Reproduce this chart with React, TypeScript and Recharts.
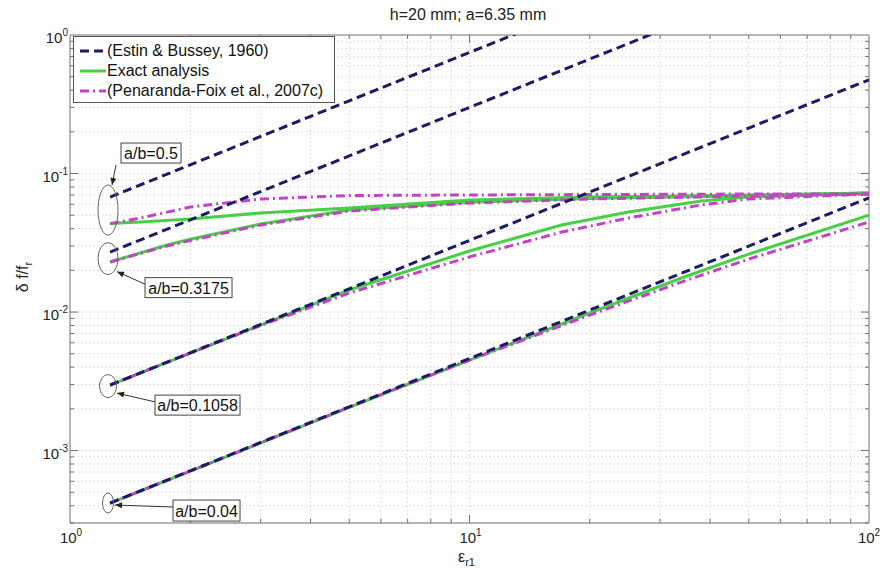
import React from 'react';
import { LineChart, Line, XAxis, YAxis, ReferenceLine, ReferenceDot } from 'recharts';

const FONT = '"Liberation Sans", Arial, Helvetica, sans-serif';

// Estin & Bussey (straight lines on log-log)
const estinX05 = [1.26, 2, 5, 10, 20];
const estinY05 = [0.0676, 0.1156, 0.335, 0.748, 1.67];
const estinX03 = [1.26, 2, 5, 10, 20, 50];
const estinY03 = [0.0271, 0.0463, 0.134, 0.3, 0.67, 1.94];
const estinX = [1.26, 2, 5, 10, 20, 50, 100];
const estinY01 = [0.00297, 0.00508, 0.01472, 0.0329, 0.0735, 0.213, 0.475];
const estinY004 = [0.000418, 0.000714, 0.00207, 0.00462, 0.01033, 0.0299, 0.0668];

// exact analysis / Penaranda-Foix
const x05 = [1.26, 1.5, 2, 3, 5, 10, 20, 50, 100];
const exactY05 = [0.0435, 0.0447, 0.0469, 0.0519, 0.0564, 0.0644, 0.0676, 0.07, 0.0723];
const penY05 = [0.0435, 0.0477, 0.0573, 0.0655, 0.0694, 0.07, 0.0705, 0.0711, 0.0711];

const x03 = [1.26, 1.75, 2, 3, 5, 10, 20, 50, 100];
const exactY03 = [0.023, 0.0305, 0.0335, 0.0432, 0.0545, 0.062, 0.066, 0.069, 0.0723];
const penY03 = [0.023, 0.03, 0.0328, 0.0425, 0.0536, 0.0612, 0.0655, 0.0688, 0.0711];

const x01 = [1.26, 2, 3, 5, 10, 17, 25, 38, 50, 100];
const exactY01 = [0.00297, 0.00506, 0.00806, 0.01442, 0.0276, 0.0425, 0.0527, 0.0633, 0.0676, 0.0723];
const penY01 = [0.00297, 0.00506, 0.008, 0.01371, 0.025, 0.0378, 0.0477, 0.0593, 0.0655, 0.0711];

const x004 = [1.26, 2, 5, 10, 20, 35, 50, 100];
const exactY004 = [0.000418, 0.00071, 0.00205, 0.0045, 0.00984, 0.0182, 0.0262, 0.0501];
const penY004 = [0.000418, 0.00071, 0.00206, 0.0045, 0.00951, 0.017, 0.0241, 0.0447];

// axes
const xMajor = [1, 10, 100];
const yMajor = [1e-3, 1e-2, 1e-1, 1];
const xMinor = [2, 3, 4, 5, 6, 7, 8, 9, 20, 30, 40, 50, 60, 70, 80, 90];
const yMinor = [
  3e-4, 4e-4, 5e-4, 6e-4, 7e-4, 8e-4, 9e-4,
  2e-3, 3e-3, 4e-3, 5e-3, 6e-3, 7e-3, 8e-3, 9e-3,
  0.02, 0.03, 0.04, 0.05, 0.06, 0.07, 0.08, 0.09,
  0.2, 0.3, 0.4, 0.5, 0.6, 0.7, 0.8, 0.9,
];
const X_MIN = 1, X_MAX = 100, Y_MIN = 3e-4, Y_MAX = 1;

// annotations: ellipse around start points, boxed label and arrow
const annotations = [
  { label: 'a/b=0.5', x: 1.245, y: 0.0545, rx: 10, ry: 25, box: [13, -67, 60, 20], tail: [8, -45], tip: [4, -25] },
  { label: 'a/b=0.3175', x: 1.245, y: 0.0243, rx: 10, ry: 16, box: [37, 19, 87, 20], tail: [38, 26], tip: [9, 13] },
  { label: 'a/b=0.1058', x: 1.245, y: 0.00292, rx: 8.5, ry: 11.5, box: [47, 9, 85, 20], tail: [48, 16], tip: [9, 7] },
  { label: 'a/b=0.04', x: 1.245, y: 0.000418, rx: 5.5, ry: 10, box: [65, -3, 67, 21], tail: [66, 4], tip: [7, 2] },
];

const zip = (xs: number[], ys: number[]) => xs.map((x, i) => ({ x, y: ys[i] }));

const NAVY = '#1b1b66';
const GREEN = '#45d045';
const MAGENTA = '#c443c4';

const estin = { stroke: NAVY, dash: '9 5' };
const exact = { stroke: GREEN, dash: undefined };
const pen = { stroke: MAGENTA, dash: '9 4 2 4' };

const series = [
  { id: 'ex05', data: zip(x05, exactY05), ...exact },
  { id: 'ex03', data: zip(x03, exactY03), ...exact },
  { id: 'ex01', data: zip(x01, exactY01), ...exact },
  { id: 'ex004', data: zip(x004, exactY004), ...exact },
  { id: 'pen05', data: zip(x05, penY05), ...pen },
  { id: 'pen03', data: zip(x03, penY03), ...pen },
  { id: 'pen01', data: zip(x01, penY01), ...pen },
  { id: 'pen004', data: zip(x004, penY004), ...pen },
  { id: 'es05', data: zip(estinX05, estinY05), ...estin },
  { id: 'es03', data: zip(estinX03, estinY03), ...estin },
  { id: 'es01', data: zip(estinX, estinY01), ...estin },
  { id: 'es004', data: zip(estinX, estinY004), ...estin },
];

const exp10 = (v: number) => Math.round(Math.log10(v));

function XTick(props: any) {
  const { x, y, payload } = props;
  return (
    <text x={x + 1} y={y + 18} textAnchor="middle" fontFamily={FONT} fontSize={15} fill="#222">
      10<tspan dy={-7} fontSize={10}>{exp10(payload.value)}</tspan>
    </text>
  );
}

function YTick(props: any) {
  const { x, y, payload } = props;
  return (
    <text x={x} y={y + 8} textAnchor="end" fontFamily={FONT} fontSize={15} fill="#222">
      10<tspan dy={-7} fontSize={10}>{exp10(payload.value)}</tspan>
    </text>
  );
}

function Annotation(props: any) {
  const { cx, cy, a } = props;
  if (cx == null || cy == null) return null;
  const [bx, by, bw, bh] = a.box;
  const tx = cx + a.tail[0], ty = cy + a.tail[1];
  const px = cx + a.tip[0], py = cy + a.tip[1];
  const ang = Math.atan2(py - ty, px - tx);
  const L = 7, Wd = 3;
  const p1 = [px - L * Math.cos(ang) + Wd * Math.sin(ang), py - L * Math.sin(ang) - Wd * Math.cos(ang)];
  const p2 = [px - L * Math.cos(ang) - Wd * Math.sin(ang), py - L * Math.sin(ang) + Wd * Math.cos(ang)];
  return (
    <g>
      <ellipse cx={cx} cy={cy} rx={a.rx} ry={a.ry} fill="none" stroke="#666" strokeWidth={1} />
      <line x1={tx} y1={ty} x2={px} y2={py} stroke="#333" strokeWidth={1} />
      <polygon points={`${px},${py} ${p1[0]},${p1[1]} ${p2[0]},${p2[1]}`} fill="#222" />
      <rect x={cx + bx} y={cy + by} width={bw} height={bh} fill="#fff" stroke="#444" strokeWidth={1} />
      <text x={cx + bx + bw / 2} y={cy + by + bh / 2 + 6} textAnchor="middle" fontFamily={FONT} fontSize={16} fill="#111">
        {a.label}
      </text>
    </g>
  );
}

const GRID = '#c8c8c8';
const BORDER = '#707070';

export default function App() {
  const tickY = (len: number) => Math.pow(10, len / 138.5);
  const tickX = (len: number) => Math.pow(10, len / 399);

  return (
    <div style={{ position: 'absolute', left: 0, top: 0, width: 880, height: 570, background: '#fff', fontFamily: FONT }}>
      <LineChart width={880} height={570} margin={{ top: 35, right: 11, left: 10, bottom: 17 }}>
        <XAxis
          dataKey="x"
          type="number"
          scale="log"
          domain={[X_MIN, X_MAX]}
          ticks={xMajor}
          allowDataOverflow
          tick={<XTick />}
          tickLine={false}
          tickSize={0}
          axisLine={{ stroke: BORDER }}
          height={30}
        />
        <YAxis
          type="number"
          scale="log"
          domain={[Y_MIN, Y_MAX]}
          ticks={yMajor}
          allowDataOverflow
          tick={<YTick />}
          tickLine={false}
          tickSize={0}
          axisLine={{ stroke: BORDER }}
          width={60}
        />

        {[...xMinor, 10].map((v) => (
          <ReferenceLine key={'gx' + v} x={v} stroke={GRID} strokeDasharray="1 3" />
        ))}
        {[...yMinor, 1e-3, 1e-2, 1e-1].map((v) => (
          <ReferenceLine key={'gy' + v} y={v} stroke={GRID} strokeDasharray="1 3" />
        ))}

        {xMinor.map((v) => (
          <ReferenceLine key={'tb' + v} segment={[{ x: v, y: Y_MIN }, { x: v, y: Y_MIN * tickY(4) }]} stroke={BORDER} />
        ))}
        {xMinor.map((v) => (
          <ReferenceLine key={'tt' + v} segment={[{ x: v, y: Y_MAX / tickY(4) }, { x: v, y: Y_MAX }]} stroke={BORDER} />
        ))}
        {[10].map((v) => (
          <ReferenceLine key={'Tb' + v} segment={[{ x: v, y: Y_MIN }, { x: v, y: Y_MIN * tickY(8) }]} stroke={BORDER} />
        ))}
        {[10].map((v) => (
          <ReferenceLine key={'Tt' + v} segment={[{ x: v, y: Y_MAX / tickY(8) }, { x: v, y: Y_MAX }]} stroke={BORDER} />
        ))}
        {yMinor.map((v) => (
          <ReferenceLine key={'tl' + v} segment={[{ x: X_MIN, y: v }, { x: X_MIN * tickX(4), y: v }]} stroke={BORDER} />
        ))}
        {yMinor.map((v) => (
          <ReferenceLine key={'tr' + v} segment={[{ x: X_MAX / tickX(4), y: v }, { x: X_MAX, y: v }]} stroke={BORDER} />
        ))}
        {[1e-3, 1e-2, 1e-1].map((v) => (
          <ReferenceLine key={'Tl' + v} segment={[{ x: X_MIN, y: v }, { x: X_MIN * tickX(8), y: v }]} stroke={BORDER} />
        ))}
        {[1e-3, 1e-2, 1e-1].map((v) => (
          <ReferenceLine key={'Tr' + v} segment={[{ x: X_MAX / tickX(8), y: v }, { x: X_MAX, y: v }]} stroke={BORDER} />
        ))}
        <ReferenceLine y={Y_MAX} stroke={BORDER} />
        <ReferenceLine x={X_MAX} stroke={BORDER} />

        {series.map((s) => (
          <Line
            key={s.id}
            data={s.data}
            dataKey="y"
            type="linear"
            stroke={s.stroke}
            strokeWidth={3}
            strokeDasharray={s.dash}
            dot={false}
            activeDot={false}
            isAnimationActive={false}
          />
        ))}

        {annotations.map((a) => (
          <ReferenceDot key={a.label} x={a.x} y={a.y} r={0} ifOverflow="visible" shape={(p: any) => <Annotation {...p} a={a} />} />
        ))}
      </LineChart>

      <div style={{ position: 'absolute', left: 0, width: 880, top: 6, textAlign: 'center', fontSize: 16, color: '#222', paddingLeft: 56, boxSizing: 'border-box' }}>
        h=20 mm; a=6.35 mm
      </div>

      <div style={{ position: 'absolute', left: 458, top: 549, fontSize: 16, lineHeight: '16px', color: '#222' }}>
        ε<sub style={{ fontSize: 11, lineHeight: '11px' }}>r1</sub>
      </div>

      <div
        style={{
          position: 'absolute',
          left: 24,
          top: 277,
          transform: 'translate(-50%, -50%) rotate(-90deg)',
          fontSize: 16,
          color: '#222',
          whiteSpace: 'nowrap',
        }}
      >
        δ f/f<sub style={{ fontSize: 11 }}>r</sub>
      </div>

      <div
        style={{
          position: 'absolute',
          left: 73,
          top: 36,
          width: 262,
          height: 67,
          boxSizing: 'border-box',
          border: '1px solid #555',
          background: '#fff',
          fontSize: 16,
          color: '#111',
          padding: '4px 0 0 6px',
        }}
      >
        {[
          { name: '(Estin & Bussey, 1960)', ...estin },
          { name: 'Exact analysis', ...exact },
          { name: '(Penaranda-Foix et al., 2007c)', ...pen },
        ].map((it) => (
          <div key={it.name} style={{ display: 'flex', alignItems: 'center', height: 20 }}>
            <svg width={26} height={10} style={{ marginRight: 1 }}>
              <line x1={0} y1={5} x2={26} y2={5} stroke={it.stroke} strokeWidth={3} strokeDasharray={it.dash} />
            </svg>
            <span>{it.name}</span>
          </div>
        ))}
      </div>
    </div>
  );
}
